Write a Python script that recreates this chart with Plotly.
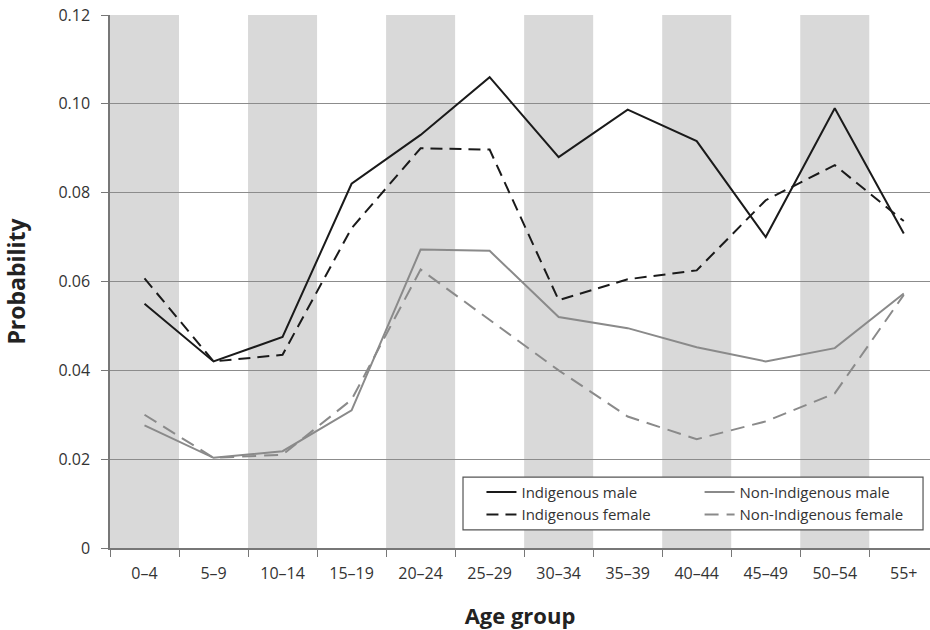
import plotly.graph_objects as go

age_groups = ["0–4", "5–9", "10–14", "15–19", "20–24", "25–29",
              "30–34", "35–39", "40–44", "45–49", "50–54", "55+"]

indigenous_male = [0.055, 0.042, 0.0475, 0.082, 0.093, 0.106,
                   0.088, 0.0987, 0.0916, 0.070, 0.099, 0.0708]
indigenous_female = [0.0607, 0.042, 0.0435, 0.072, 0.090, 0.0897,
                     0.0558, 0.0605, 0.0625, 0.0783, 0.0862, 0.0736]
non_indigenous_male = [0.0276, 0.0203, 0.0218, 0.031, 0.0672, 0.0669,
                       0.052, 0.0495, 0.0452, 0.042, 0.045, 0.0573]
non_indigenous_female = [0.030, 0.0203, 0.021, 0.0334, 0.0627, 0.0513,
                         0.040, 0.0296, 0.0245, 0.0285, 0.0348, 0.057]

y_ticks = [0, 0.02, 0.04, 0.06, 0.08, 0.10, 0.12]
y_tick_labels = ["0", "0.02", "0.04", "0.06", "0.08", "0.10", "0.12"]

FONT = "Open Sans"
BLACK = "#1a1a1a"
GRAY = "#8a8a8a"

fig = go.Figure()

fig.add_trace(go.Scatter(x=age_groups, y=indigenous_male, mode="lines",
                         name="Indigenous male", legend="legend",
                         line=dict(color=BLACK, width=2)))
fig.add_trace(go.Scatter(x=age_groups, y=indigenous_female, mode="lines",
                         name="Indigenous female", legend="legend",
                         line=dict(color=BLACK, width=2, dash="12px,7px")))
fig.add_trace(go.Scatter(x=age_groups, y=non_indigenous_male, mode="lines",
                         name="Non-Indigenous male", legend="legend2",
                         line=dict(color=GRAY, width=2)))
fig.add_trace(go.Scatter(x=age_groups, y=non_indigenous_female, mode="lines",
                         name="Non-Indigenous female", legend="legend2",
                         line=dict(color=GRAY, width=2, dash="14px,8px")))

shapes = []
for i, _ in enumerate(age_groups):
    if i % 2 == 0:
        shapes.append(dict(type="rect", xref="x", yref="y",
                           x0=i - 0.5, x1=i + 0.5, y0=y_ticks[0], y1=y_ticks[-1],
                           fillcolor="#d9d9d9", line=dict(width=0), layer="below"))
# legend frame
shapes.append(dict(type="rect", xref="paper", yref="paper",
                   x0=0.4305, x1=0.9915, y0=0.034, y1=0.133,
                   fillcolor="white", line=dict(color="#555555", width=1.2),
                   layer="above"))

legend_common = dict(bgcolor="rgba(0,0,0,0)", borderwidth=0,
                     font=dict(family=FONT, size=15, color="#333333"),
                     yanchor="top", xanchor="left", orientation="v",
                     tracegroupgap=0)

fig.update_layout(
    width=930, height=630,
    margin=dict(l=110, r=0, t=15, b=82),
    paper_bgcolor="white", plot_bgcolor="white",
    font=dict(family=FONT, size=15, color="#333333"),
    shapes=shapes,
    showlegend=True,
    legend=dict(x=0.453, y=0.1356, **legend_common),
    legend2=dict(x=0.719, y=0.1356, **legend_common),
    xaxis=dict(
        type="category", range=[-0.5, 11.38], automargin=False,
        tickson="boundaries", ticks="outside", ticklen=7, tickwidth=1.2,
        tickcolor="#777777", showline=True, linecolor="#777777", linewidth=1.5,
        showgrid=False, ticklabelstandoff=10, ticklabeloverflow="allow",
        tickfont=dict(family=FONT, size=16, color="#333333"),
        title=dict(text="<b>Age group</b>", standoff=36,
                   font=dict(family=FONT, size=22, color="#222222")),
    ),
    yaxis=dict(
        range=[0, 0.12], tickvals=y_ticks, ticktext=y_tick_labels, automargin=False,
        ticks="outside", ticklen=7, tickwidth=1.2, tickcolor="#777777",
        showline=True, linecolor="#777777", linewidth=1.5, ticklabelstandoff=8,
        ticklabeloverflow="allow",
        showgrid=True, gridcolor="#8c8c8c", gridwidth=1.2, zeroline=False,
        tickfont=dict(family=FONT, size=16, color="#333333"),
        title=dict(text="<b>Probability</b>", standoff=33,
                   font=dict(family=FONT, size=23, color="#222222")),
    ),
)

fig.write_html(
    "out.html",
    config={"displayModeBar": False},
    post_script="document.body.style.margin='0';document.body.style.overflow='hidden';",
)
